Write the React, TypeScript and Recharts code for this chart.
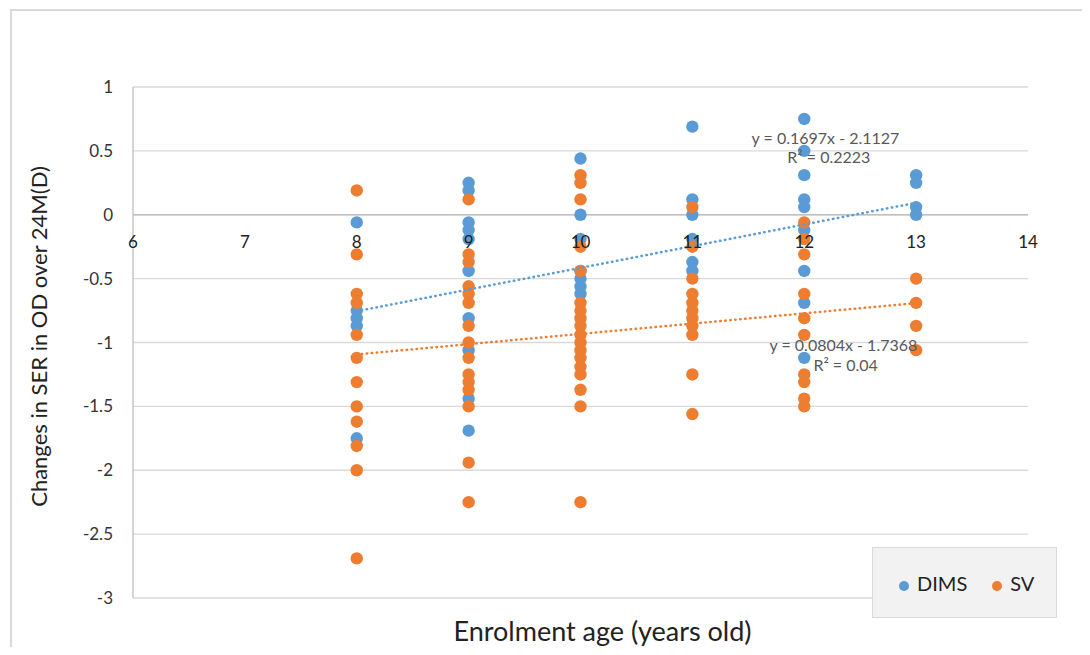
import {
  ScatterChart,
  Scatter,
  XAxis,
  YAxis,
  CartesianGrid,
  ReferenceLine,
  ReferenceDot,
  Legend,
} from 'recharts';

const AGES = [8, 9, 10, 11, 12, 13];

const DIMS_BY_AGE = [
  [-0.06, -0.75, -0.81, -0.87, -1.75],
  [0.25, 0.19, -0.06, -0.12, -0.19, -0.44, -0.81, -1.06, -1.44, -1.69],
  [0.44, 0.0, -0.19, -0.44, -0.5, -0.56, -0.62],
  [0.69, 0.12, 0.0, -0.19, -0.37, -0.44],
  [0.75, 0.5, 0.31, 0.12, 0.06, -0.12, -0.44, -0.69, -1.12],
  [0.31, 0.25, 0.06, 0.0],
];

const SV_BY_AGE = [
  [0.19, -0.31, -0.62, -0.69, -0.94, -1.12, -1.31, -1.5, -1.62, -1.81, -2.0, -2.69],
  [0.12, -0.31, -0.37, -0.56, -0.62, -0.69, -0.87, -1.0, -1.12, -1.25, -1.31, -1.37, -1.5, -1.94, -2.25],
  [0.31, 0.25, 0.12, -0.25, -0.44, -0.69, -0.75, -0.81, -0.87, -0.94, -1.0, -1.06, -1.12, -1.19, -1.25, -1.37, -1.5, -2.25],
  [0.06, -0.25, -0.5, -0.62, -0.69, -0.75, -0.81, -0.87, -0.94, -1.25, -1.56],
  [-0.06, -0.19, -0.31, -0.62, -0.81, -0.94, -1.25, -1.31, -1.44, -1.5],
  [-0.5, -0.69, -0.87, -1.06],
];

// linear trendlines as printed on the chart: [slope, intercept]
const DIMS_FIT = [0.1697, -2.1127];
const SV_FIT = [0.0804, -1.7368];
const FIT_RANGE = [8, 13];

const X_TICKS = [6, 7, 8, 9, 10, 11, 12, 13, 14];
const Y_TICKS = [-3, -2.5, -2, -1.5, -1, -0.5, 0, 0.5, 1];

const BLUE = '#5B9BD5';
const ORANGE = '#ED7D31';

const toPoints = (byAge: number[][]) =>
  AGES.flatMap((age, i) => byAge[i].map((v) => ({ x: age, y: v })));

const fitLine = ([m, b]: number[]) => FIT_RANGE.map((x) => ({ x, y: m * x + b }));

const dimsPoints = toPoints(DIMS_BY_AGE);
const svPoints = toPoints(SV_BY_AGE);

const FONT = 'Lato, "Open Sans", sans-serif';

const dot = (color: string) => (p: any) => <circle cx={p.cx} cy={p.cy} r={6.2} fill={color} />;

const noLabel = { r: 1, fill: 'none', stroke: 'none', ifOverflow: 'visible' as const };

export default function App() {
  return (
    <div style={{ position: 'relative', width: 1082, height: 647, marginBottom: -8, overflow: 'hidden', fontFamily: FONT, background: '#fff' }}>
      {/* outer chart frame, cut off on the right and bottom like the screenshot */}
      <div style={{ position: 'absolute', left: 2, top: 1, width: 1200, height: 800, border: '2px solid #d9d9d9' }} />

      <ScatterChart width={1082} height={647} margin={{ top: 79, right: 62, left: 0, bottom: 7 }} style={{ position: 'absolute', left: 0, top: 0 }}>
        <CartesianGrid vertical={false} stroke="#d9d9d9" strokeWidth={1.3} />
        <XAxis
          type="number"
          dataKey="x"
          domain={[6, 14]}
          ticks={X_TICKS}
          tick={false}
          axisLine={false}
          tickLine={false}
          height={50}
          label={{
            content: (p: any) => (
              <text x={p.viewBox.x + p.viewBox.width / 2 + 22} y={p.viewBox.y + 43} textAnchor="middle" fontSize={27} fill="#222">
                Enrolment age (years old)
              </text>
            ),
          }}
        />
        <YAxis
          type="number"
          dataKey="y"
          domain={[-3, 1]}
          ticks={Y_TICKS}
          width={125}
          axisLine={{ stroke: '#bfbfbf', strokeWidth: 1.3 }}
          tickLine={false}
          tickSize={12}
          tickMargin={8}
          tick={{ fontSize: 17, fill: '#333' }}
          label={{
            content: (p: any) => {
              const cx = p.viewBox.x + 30;
              const cy = p.viewBox.y + p.viewBox.height / 2 - 6;
              return (
                <text x={cx} y={cy} transform={`rotate(-90 ${cx} ${cy})`} textAnchor="middle" dominantBaseline="central" fontSize={22} fill="#222">
                  Changes in SER in OD over 24M(D)
                </text>
              );
            },
          }}
        />
        <ReferenceLine y={0} stroke="#bfbfbf" strokeWidth={1.3} />

        <Scatter name="DIMS" data={dimsPoints} fill={BLUE} shape={dot(BLUE)} isAnimationActive={false} />
        <Scatter name="SV" data={svPoints} fill={ORANGE} shape={dot(ORANGE)} isAnimationActive={false} />

        <Scatter
          name="DIMS trend"
          data={fitLine(DIMS_FIT)}
          legendType="none"
          line={{ stroke: BLUE, strokeWidth: 2.5, strokeDasharray: '0.5 4.5', strokeLinecap: 'round' }}
          shape={() => <g />}
          isAnimationActive={false}
        />
        <Scatter
          name="SV trend"
          data={fitLine(SV_FIT)}
          legendType="none"
          line={{ stroke: ORANGE, strokeWidth: 2.5, strokeDasharray: '0.5 4.5', strokeLinecap: 'round' }}
          shape={() => <g />}
          isAnimationActive={false}
        />

        {/* x tick labels sit under the y = 0 axis line */}
        {X_TICKS.map((t) => (
          <ReferenceDot
            key={t}
            x={t}
            y={0}
            {...noLabel}
            label={{ value: String(t), position: 'bottom', offset: 20, fontSize: 17, fill: '#222' }}
          />
        ))}

        {/* trendline equations */}
        <ReferenceDot x={12.19} y={0.6} {...noLabel}
          label={{ value: 'y = 0.1697x - 2.1127', position: 'center', fontSize: 16, fill: '#595959' }} />
        <ReferenceDot x={12.22} y={0.45} {...noLabel}
          label={{ value: 'R² = 0.2223', position: 'center', fontSize: 16, fill: '#595959' }} />
        <ReferenceDot x={12.35} y={-1.02} {...noLabel}
          label={{ value: 'y = 0.0804x - 1.7368', position: 'center', fontSize: 16, fill: '#595959' }} />
        <ReferenceDot x={12.37} y={-1.18} {...noLabel}
          label={{ value: 'R² = 0.04', position: 'center', fontSize: 16, fill: '#595959' }} />

        <Legend
          layout="horizontal"
          verticalAlign="middle"
          align="center"
          iconType="circle"
          iconSize={10}
          formatter={(v: string) => <span style={{ color: '#222', fontSize: 20, marginLeft: 4, marginRight: 15 }}>{v}</span>}
          wrapperStyle={{
            left: 864,
            top: 539,
            width: 185,
            height: 71,
            background: '#f2f2f2',
            border: '1px solid #d9d9d9',
            boxSizing: 'border-box',
            display: 'flex',
            alignItems: 'center',
            justifyContent: 'flex-start',
            paddingLeft: 26,
            whiteSpace: 'nowrap',
          }}
        />
      </ScatterChart>
    </div>
  );
}
